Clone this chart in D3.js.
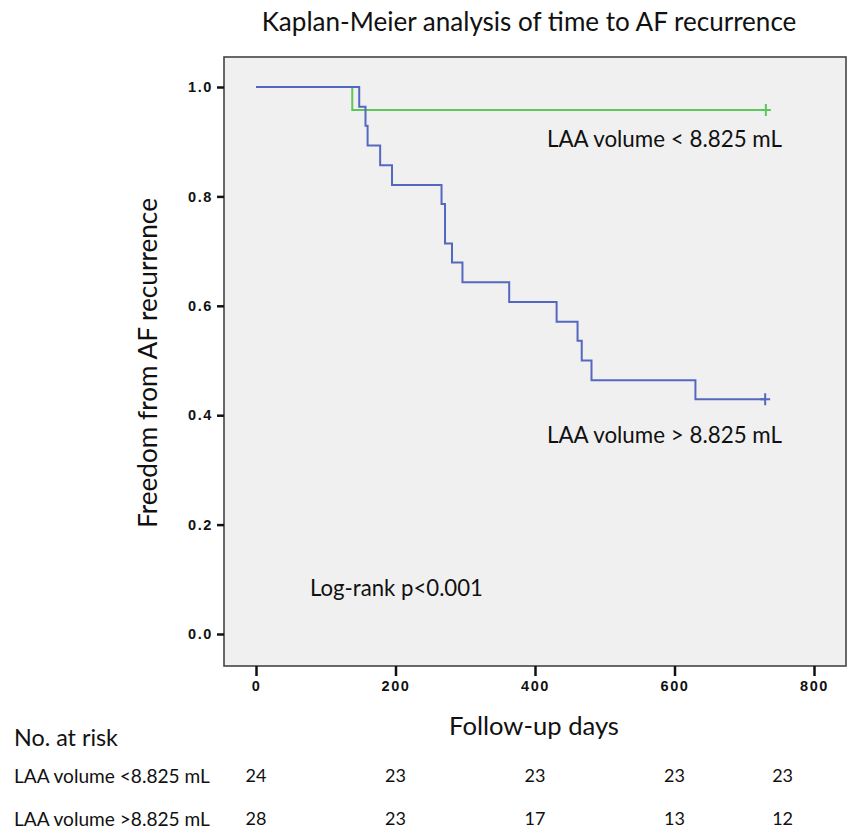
<!DOCTYPE html>
<html>
<head>
<meta charset="utf-8">
<script src="https://cdn.jsdelivr.net/npm/d3@7"></script>
<style>
  html, body { margin: 0; padding: 0; background: #fff; }
  svg { display: block; }
  .txt { font-family: Lato, "Open Sans", sans-serif; fill: #111; }
  .tick text { font-family: "Liberation Sans", Arial, sans-serif; font-weight: bold; font-size: 14.5px; letter-spacing: 1.6px; fill: #111; }
</style>
</head>
<body>
<div id="chart"></div>
<script>
// Kaplan-Meier curves
const lowTimes = [0, 138];
const lowSurv = [1.0, 0.958];
const lowEnd = 731;

const highTimes = [0, 148, 157, 160, 178, 195, 266, 271, 281, 296, 363, 431, 461, 467, 481, 630];
const highSurv = [1.0, 0.964, 0.929, 0.893, 0.857, 0.821, 0.786, 0.714, 0.679, 0.643, 0.607, 0.571, 0.536, 0.5, 0.464, 0.429];
const highEnd = 730;

const xTicks = [0, 200, 400, 600, 800];
const yTicks = [0.0, 0.2, 0.4, 0.6, 0.8, 1.0];

const riskCols = [0, 200, 400, 600, 755];
const riskLabels = ['LAA volume <8.825 mL', 'LAA volume >8.825 mL'];
const riskLow = [24, 23, 23, 23, 23];
const riskHigh = [28, 23, 17, 13, 12];

const width = 847;
const height = 830;
const frame = { left: 224, right: 846, top: 57, bottom: 666 };

const svg = d3.select('#chart').append('svg')
  .attr('width', width)
  .attr('height', height);

const x = d3.scaleLinear().domain([0, 800]).range([256, 814]);
const y = d3.scaleLinear().domain([0, 1]).range([634, 87]);

// fit a text element to a target width by changing its font size
function fit(sel, target) {
  const w = sel.node().getComputedTextLength();
  const fs = parseFloat(sel.attr('font-size'));
  sel.attr('font-size', (fs * target / w).toFixed(2));
  return sel;
}

// plot background and frame
svg.append('rect')
  .attr('x', frame.left)
  .attr('y', frame.top)
  .attr('width', frame.right - frame.left)
  .attr('height', frame.bottom - frame.top)
  .attr('fill', '#f0f0f0')
  .attr('stroke', '#444')
  .attr('stroke-width', 1.6);

// axes
const axisX = svg.append('g')
  .attr('transform', `translate(0,${frame.bottom})`)
  .call(d3.axisBottom(x).tickValues(xTicks).tickSize(10).tickSizeOuter(0).tickPadding(5));
axisX.select('.domain').remove();
axisX.selectAll('.tick line').attr('stroke', '#111').attr('stroke-width', 2.5);

const axisY = svg.append('g')
  .attr('transform', `translate(${frame.left},0)`)
  .call(d3.axisLeft(y).tickValues(yTicks).tickFormat(d3.format('.1f')).tickSize(7).tickSizeOuter(0).tickPadding(4));
axisY.select('.domain').remove();
axisY.selectAll('.tick line').attr('stroke', '#111').attr('stroke-width', 2.5);

// curves
const line = d3.line()
  .x((d) => x(d.t))
  .y((d) => y(d.s))
  .curve(d3.curveStepAfter);

function series(times, surv, end) {
  const pts = times.map((t, i) => ({ t, s: surv[i] }));
  pts.push({ t: end, s: surv[surv.length - 1] });
  return pts;
}

const groups = [
  { pts: series(lowTimes, lowSurv, lowEnd), color: '#5cc85c' },
  { pts: series(highTimes, highSurv, highEnd), color: '#5568c0' }
];

groups.forEach((g) => {
  svg.append('path')
    .datum(g.pts)
    .attr('fill', 'none')
    .attr('stroke', g.color)
    .attr('stroke-width', 2)
    .attr('d', line);
  // censor mark "+"
  const last = g.pts[g.pts.length - 1];
  const cx = x(last.t);
  const cy = y(last.s);
  svg.append('path')
    .attr('d', `M${cx},${cy - 6}V${cy + 6}M${cx - 5},${cy}H${cx + 5}`)
    .attr('stroke', g.color)
    .attr('stroke-width', 2);
});

// texts
function label(txt, cx, cy, size, target, anchor) {
  const t = svg.append('text')
    .attr('class', 'txt')
    .attr('x', cx)
    .attr('y', cy)
    .attr('font-size', size)
    .attr('dominant-baseline', 'central')
    .attr('text-anchor', anchor || 'start')
    .text(txt);
  if (target) fit(t, target);
  return t;
}

label('Kaplan-Meier analysis of time to AF recurrence', 529, 21, 22, 535, 'middle');
label('LAA volume < 8.825 mL', 547, 138, 20, 235);
label('LAA volume > 8.825 mL', 547, 434, 20, 235);
label('Log-rank p<0.001', 310, 587, 20, 173);
label('Follow-up days', 534, 725, 24, 170, 'middle');

const yl = svg.append('text')
  .attr('class', 'txt')
  .attr('transform', 'translate(147,363) rotate(-90)')
  .attr('font-size', 24)
  .attr('dominant-baseline', 'central')
  .attr('text-anchor', 'middle')
  .text('Freedom from AF recurrence');
fit(yl, 330);

// number at risk table
label('No. at risk', 14, 737, 18, 104);
label(riskLabels[0], 14, 775, 18, 196);
label(riskLabels[1], 14, 818, 18, 196);

[riskLow, riskHigh].forEach((row, r) => {
  svg.append('g').selectAll('text')
    .data(row)
    .join('text')
    .attr('class', 'txt')
    .attr('x', (d, i) => x(riskCols[i]))
    .attr('y', r === 0 ? 775 : 818)
    .attr('font-size', 18)
    .attr('dominant-baseline', 'central')
    .attr('text-anchor', 'middle')
    .text((d) => d);
});
</script>
</body>
</html>
